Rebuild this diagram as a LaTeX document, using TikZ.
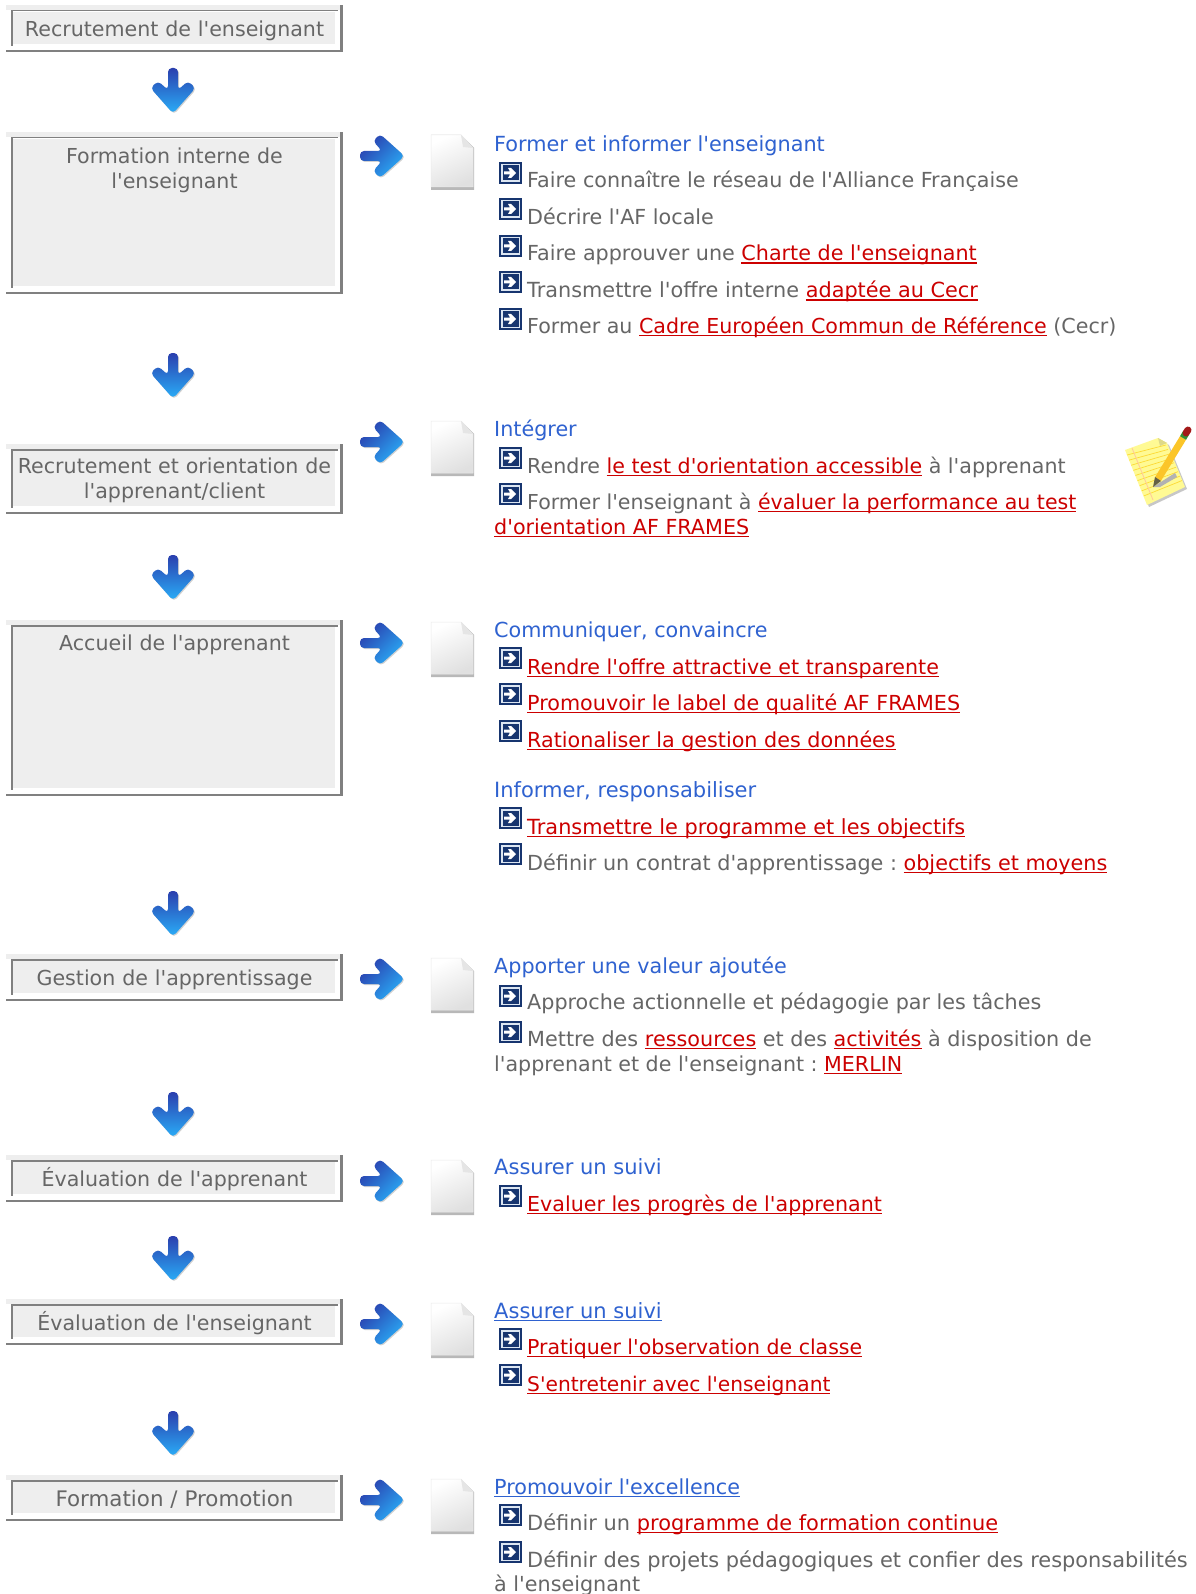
\documentclass[tikz,border=0pt]{standalone}
\usepackage{fontspec}
\newfontfamily\djv{DejaVu Sans}
\usetikzlibrary{calc}
\definecolor{boxfill}{HTML}{EEEEEE}
\definecolor{boxline}{HTML}{808080}
\definecolor{bodytext}{HTML}{666666}
\definecolor{headblue}{HTML}{2F62D0}
\definecolor{linkred}{HTML}{CC0000}
\definecolor{bulletnavy}{HTML}{17356F}
\definecolor{bulletring}{HTML}{DCE6F2}
\definecolor{arrowdark}{HTML}{2A3FAE}
\definecolor{arrowlight}{HTML}{2AAEF8}
\newcommand{\ulbox}[1]{\leavevmode\setbox0\hbox{#1}\rlap{\rule[-2.8pt]{\wd0}{1.3pt}}\box0 }
\newcommand{\lk}[1]{\textcolor{linkred}{\ulbox{#1}\unskip}}
\newcommand{\hd}[1]{\textcolor{headblue}{#1}}
\newcommand{\hdu}[1]{\textcolor{headblue}{\ulbox{#1}\unskip}}
\newcommand{\boxnode}[7][9.5]{% [label offset] name x1 y1 x2 y2 text
  \fill[boxfill] (#3,#4) rectangle (#5,#6);
  \fill[white] (#3,#4+5) rectangle (#5-3,#6-2);
  \fill[boxfill] (#3+7,#4+7) rectangle (#5-8,#6-8);
  \fill[boxline] (#3+5,#4+5) rectangle (#5-5,#4+6.5);
  \fill[boxline] (#3+5,#4+5) rectangle (#3+7,#6-6);
  \fill[boxline] (#3,#6-2) rectangle (#5,#6);
  \fill[boxline] (#5-3,#4) rectangle (#5,#6);
  \node[boxlabel,anchor=north] (#2) at ({(#3+#5)/2},#4+#1) {\rule{0pt}{22pt}#7};
}
\tikzset{
  x=1pt,y=-1pt,
  fs/.style={font=\djv\frenchspacing\fontsize{#1}{25}\selectfont},
  boxlabel/.style={text=bodytext,fs=20.6,align=center,inner sep=0pt,text width=325pt},
  line/.style={text=bodytext,fs=20.7,anchor=base west,inner sep=0pt},
  pics/rarrow/.style={code={
    \fill[black!18,rounded corners=4pt,shift={(1,1)}]
      (-22,-5) -- (0,-5) -- (-9,-15) -- (-2,-22) -- (22.5,0) -- (-2,22) -- (-9,15) -- (0,5) -- (-22,5) -- cycle;
    \shade[top color=arrowdark,bottom color=arrowlight,shading angle=45,rounded corners=4pt]
      (-22,-5) -- (0,-5) -- (-9,-15) -- (-2,-22) -- (22.5,0) -- (-2,22) -- (-9,15) -- (0,5) -- (-22,5) -- cycle;
  }},
  pics/darrow/.style={code={
    \fill[black!18,rounded corners=4pt,shift={(1,1)}]
      (-5,-23) -- (5,-23) -- (5,-1) -- (15,-10) -- (22.5,-3) -- (0,22.5) -- (-22.5,-3) -- (-15,-10) -- (-5,-1) -- cycle;
    \shade[top color=arrowdark,bottom color=arrowlight,rounded corners=4pt]
      (-5,-23) -- (5,-23) -- (5,-1) -- (15,-10) -- (22.5,-3) -- (0,22.5) -- (-22.5,-3) -- (-15,-10) -- (-5,-1) -- cycle;
  }},
  pics/docicon/.style={code={
    \fill[black!28] (-21,-27) -- (9,-27) -- (22,-14) -- (22,28) -- (-21,28) -- cycle;
    \shade[top color=white,bottom color=black!12,shading angle=25,draw=black!8,line width=.5pt] (-21,-27) -- (9,-27) -- (21,-14) -- (21,25) -- (-21,25) -- cycle;
    \fill[black!10] (9,-27) -- (21,-14) -- (11,-15) -- cycle;
  }},
  pics/bullet/.style={code={
    \fill[bulletnavy] (0,0) rectangle (23,22);
    \fill[bulletring] (2,2) rectangle (21,20);
    \fill[bulletnavy] (3.5,3.5) rectangle (19.5,18.5);
    \fill[white] (5,9.5) -- (11,9.5) -- (9,6) -- (12,6) -- (17,11) -- (12,16) -- (9,16) -- (11,12.5) -- (5,12.5) -- cycle;
  }},
  pics/noteicon/.style={code={
    \fill[black!22] (-28,-19) -- (5,-31) -- (14,-26) -- (32,18) -- (-6,36) -- cycle;
    \fill[yellow!42!white] (-30,-21) -- (3,-33) -- (12,-28) -- (30,16) -- (-8,34) -- cycle;
    \foreach \i in {0,...,8}
      \draw[yellow!70!orange!80,line width=.7pt] ($(-28,-16)!{\i/9}!(-9,30)$) -- ($(11,-26)!{\i/9}!(29,14)$);
    \draw[orange!40,line width=.9pt] (-23,-23) -- (-2,29);
    \fill[yellow!45!white!85!black] (3,-33) -- (12,-28) -- (5,-25) -- cycle;
    \fill[black!30] (-2,16) -- (5,16) -- (22,6) -- (20,2) -- cycle;
    \draw[yellow!50!orange!85,line width=7pt] (3,8) -- (28,-33);
    \fill[black!70!yellow] (-2,16) -- (0,6) -- (6,10) -- cycle;
    \draw[green!45!black!80,line width=7pt] (28,-33) -- (31,-38);
    \draw[red!60!black!90,line width=7pt,line cap=round] (31,-38) -- (33,-41);
  }},
}
\begin{document}
\begin{tikzpicture}
\useasboundingbox (0,0) rectangle (1195,1594);
\fill[white] (0,0) rectangle (1195,1594);
\boxnode{b1}{6}{5}{343}{52}{Recrutement de l'enseignant}
\boxnode{b2}{6}{132}{343}{294}{Formation interne de\\ l'enseignant}
\boxnode[7.5]{b3}{6}{444}{343}{514}{Recrutement et orientation de\\ l'apprenant/client}
\boxnode[8.5]{b4}{6}{620}{343}{796}{Accueil de l'apprenant}
\boxnode{b5}{6}{954}{343}{1001}{Gestion de l'apprentissage}
\boxnode{b6}{6}{1155}{343}{1202}{Évaluation de l'apprenant}
\boxnode{b7}{6}{1299}{343}{1345}{Évaluation de l'enseignant}
\boxnode{b8}{6}{1475}{343}{1521}{\fontsize{21.4}{25}\selectfont Formation / Promotion}
\foreach \y in {91,376,578,914,1115,1259,1434} \pic at (173,\y) {darrow};
\foreach \y in {156,442,643,979,1181,1324,1500} {
  \pic at (382,\y) {rarrow};
  \pic at (452,\y+6) {docicon};
}
\pic at (1155,471) {noteicon};
\foreach \y in {162,198,235,271,308,447,483,647,683,720,807,843,985,1021,1185,1328,1364,1504,1541}
  \pic at (499,\y) {bullet};
\node[line,fs=20.8] at (494,152) {\hd{Former et informer l'enseignant}};
\node[line] at (527,188) {Faire connaître le réseau de l'Alliance Française};
\node[line] at (527,225) {Décrire l'AF locale};
\node[line] at (527,261) {Faire approuver une \lk{Charte de l'enseignant}};
\node[line,fs=20.8] at (527,298) {Transmettre l'offre interne \lk{adaptée au Cecr}};
\node[line,fs=20.6] at (527,333) {Former au \lk{Cadre Européen Commun de Référence} (Cecr)};
\node[line] at (494,436) {\hd{Intégrer}};
\node[line,fs=20.6] at (527,473) {Rendre \lk{le test d'orientation accessible} à l'apprenant};
\node[line,fs=20.55] at (527,509) {Former l'enseignant à \lk{évaluer la performance au test}};
\node[line] at (494,534) {\lk{d'orientation AF FRAMES}};
\node[line] at (494,637) {\hd{Communiquer, convaincre}};
\node[line,fs=20.6] at (527,674) {\lk{Rendre l'offre attractive et transparente}};
\node[line] at (527,710) {\lk{Promouvoir le label de qualité AF FRAMES}};
\node[line] at (527,747) {\lk{Rationaliser la gestion des données}};
\node[line,fs=21] at (494,797) {\hd{Informer, responsabiliser}};
\node[line,fs=20.85] at (527,834) {\lk{Transmettre le programme et les objectifs}};
\node[line,fs=20.75] at (527,870) {Définir un contrat d'apprentissage : \lk{objectifs et moyens}};
\node[line] at (494,973) {\hd{Apporter une valeur ajoutée}};
\node[line] at (527,1009) {Approche actionnelle et pédagogie par les tâches};
\node[line,fs=20.75] at (527,1046) {Mettre des \lk{ressources} et des \lk{activités} à disposition de};
\node[line,fs=20.6] at (494,1071) {l'apprenant et de l'enseignant : \lk{MERLIN}};
\node[line,fs=21] at (494,1174) {\hd{Assurer un suivi}};
\node[line,fs=20.6] at (527,1211) {\lk{Evaluer les progrès de l'apprenant}};
\node[line,fs=21] at (494,1318) {\hdu{Assurer un suivi}};
\node[line,fs=20.5] at (527,1354) {\lk{Pratiquer l'observation de classe}};
\node[line,fs=20.2] at (527,1391) {\lk{S'entretenir avec l'enseignant}};
\node[line] at (494,1494) {\hdu{Promouvoir l'excellence}};
\node[line,fs=20.92] at (527,1530) {Définir un \lk{programme de formation continue}};
\node[line,fs=20.9] at (527,1567) {Définir des projets pédagogiques et confier des responsabilités};
\node[line] at (494,1591) {à l'enseignant};
\end{tikzpicture}
\end{document}
